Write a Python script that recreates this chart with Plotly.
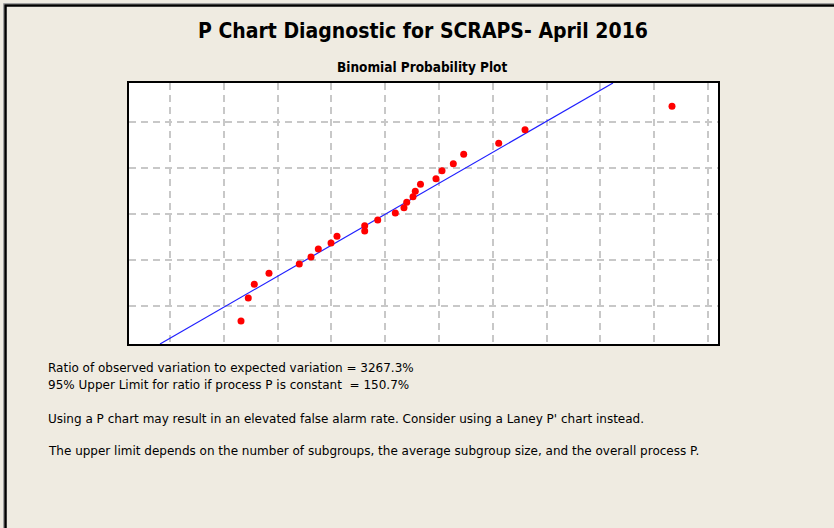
# P chart diagnostic - binomial probability plot
import plotly.graph_objects as go

# points (grid units, no tick labels on the original)
obs_x = [1.32, 1.455, 1.567, 1.84, 2.403, 2.621, 2.757, 2.993, 3.104, 3.619,
         3.619, 3.861, 4.188, 4.349, 4.40, 4.517, 4.559, 4.656, 4.944, 5.056,
         5.266, 5.459, 6.11, 6.599, 9.331]
obs_y = [0.674, 1.174, 1.472, 1.711, 1.913, 2.065, 2.239, 2.37, 2.515, 2.63,
         2.746, 2.87, 3.022, 3.137, 3.254, 3.376, 3.493, 3.646, 3.767, 3.941,
         4.093, 4.298, 4.537, 4.833, 5.341]
fit_x = [-0.186, 8.234]
fit_y = [0.174, 5.848]

grid_x = list(range(0, 11))
grid_y = [1, 2, 3, 4, 5]

title = "P Chart Diagnostic for SCRAPS- April 2016"
subtitle = "Binomial Probability Plot"
notes = [
    "Ratio of observed variation to expected variation = 3267.3%",
    "95% Upper Limit for ratio if process P is constant  = 150.7%",
    "Using a P chart may result in an elevated false alarm rate. Consider using a Laney P' chart instead.",
    "The upper limit depends on the number of subgroups, the average subgroup size, and the overall process P.",
]
note_y = [368, 385, 419, 451]

W, H = 834, 528
L, R, T, B = 129, 718, 83, 344
bg = "#EFEBE1"


def px(x):
    return (x - L) / (R - L)


def py(y):
    return (B - y) / (B - T)


fig = go.Figure()
fig.add_trace(go.Scatter(x=fit_x, y=fit_y, mode="lines",
                         line=dict(color="#2020FF", width=1.2), hoverinfo="skip"))
fig.add_trace(go.Scatter(x=obs_x, y=obs_y, mode="markers",
                         marker=dict(color="#FF0000", size=7), cliponaxis=False))

fig.update_xaxes(range=[-0.762, 10.186], tickvals=grid_x, showticklabels=False,
                 showgrid=True, gridcolor="#C8C8C8", griddash="7px,5px", gridwidth=1.5,
                 zeroline=False, showline=True, linecolor="black", linewidth=1.5,
                 mirror=True, ticks="")
fig.update_yaxes(range=[0.174, 5.848], tickvals=grid_y, showticklabels=False,
                 showgrid=True, gridcolor="#C8C8C8", griddash="7px,5px", gridwidth=1.5,
                 zeroline=False, showline=True, linecolor="black", linewidth=1.5,
                 mirror=True, ticks="")

annos = [
    dict(text="<b>" + title + "</b>", x=px(423), y=py(31),
         font=dict(family="DejaVu Sans Condensed", size=21, color="black"), xanchor="center"),
    dict(text="<b>" + subtitle + "</b>", x=px(422), y=py(67),
         font=dict(family="DejaVu Sans Condensed", size=13.5, color="black"), xanchor="center"),
]
for t, yy in zip(notes, note_y):
    annos.append(dict(text=t, x=px(46), y=py(yy), xanchor="left",
                      font=dict(family="DejaVu Sans", size=12, color="black")))
for a in annos:
    a.update(xref="paper", yref="paper", yanchor="middle", showarrow=False)

fig.update_layout(
    width=W, height=H, showlegend=False,
    margin=dict(l=L, r=W - R, t=T, b=H - B),
    paper_bgcolor=bg, plot_bgcolor="white",
    annotations=annos,
    shapes=[
        dict(type="rect", xref="paper", yref="paper",
             x0=px(3.5), x1=px(850), y0=py(560), y1=py(3.5),
             line=dict(color="#A0A0A0", width=1), layer="below"),
        dict(type="rect", xref="paper", yref="paper",
             x0=px(5.5), x1=px(850), y0=py(560), y1=py(5.5),
             line=dict(color="black", width=2.5), layer="below"),
    ],
)

fig.write_html("out.html", config={"displayModeBar": False},
               post_script="document.body.style.margin='0';")
